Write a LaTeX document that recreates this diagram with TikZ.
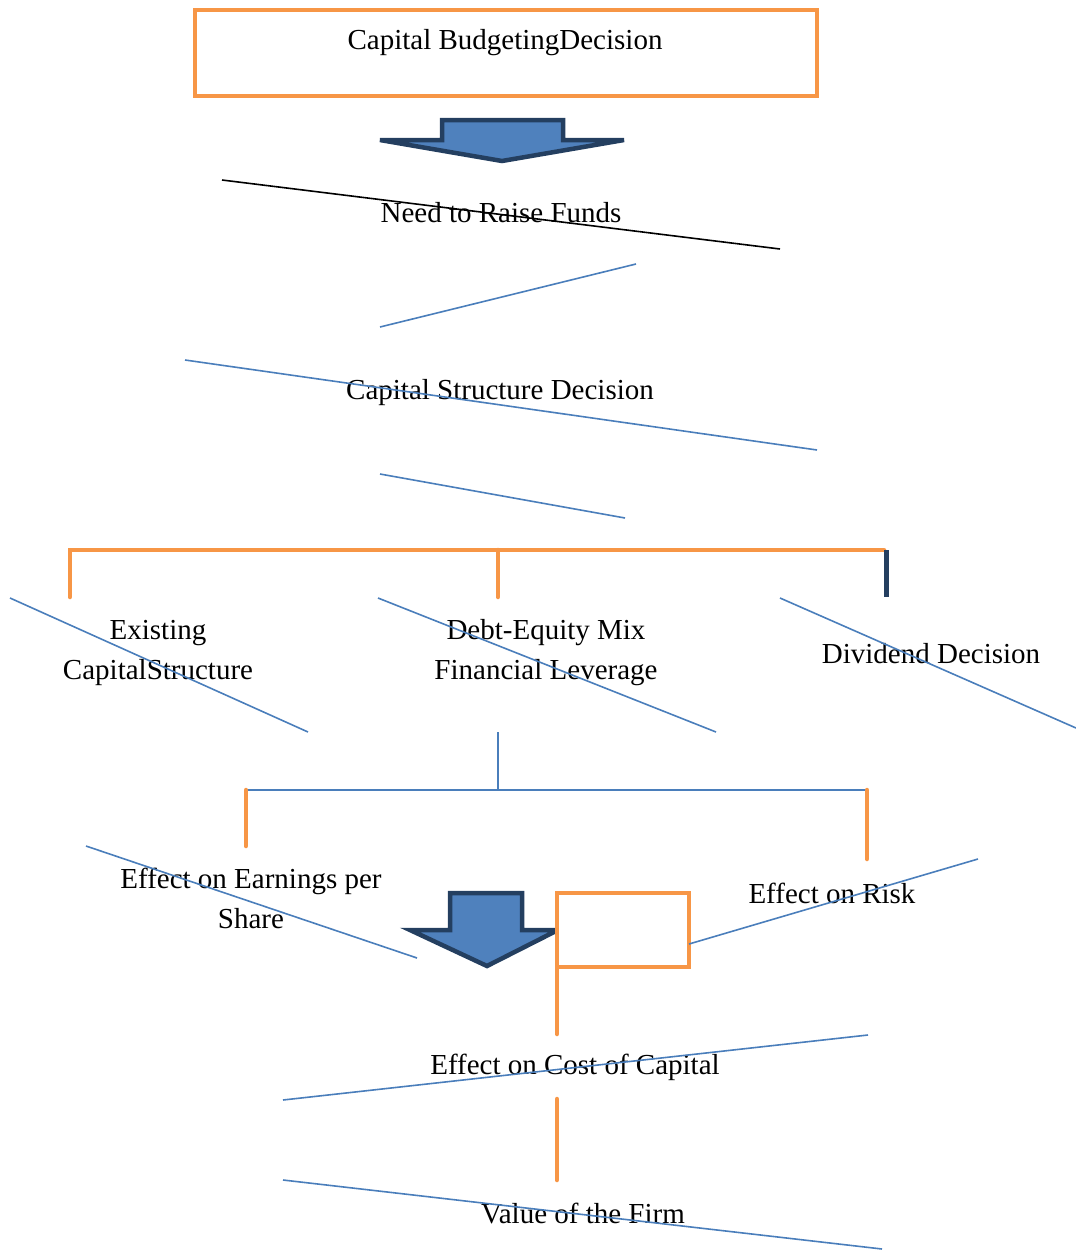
\documentclass[tikz,border=0pt]{standalone}
\usepackage{fontspec}
\setmainfont{Liberation Serif}
\usepackage{xcolor}
\definecolor{wordorange}{HTML}{F79646}
\definecolor{wordblue}{HTML}{4A7EBB}
\definecolor{arrownavy}{HTML}{243F60}
\definecolor{arrowfill}{HTML}{4F81BD}
\tikzset{
  lbl/.style={font=\fontsize{29}{40}\selectfont, align=center, inner sep=0pt, yshift=-3pt},
  wline/.style={color=wordblue, line width=1.6pt},
  obar/.style={color=wordorange, line width=4.5pt, line cap=round},
  obox/.style={draw=wordorange, line width=4pt, fill=white},
  blockarrow/.style={draw=arrownavy, fill=arrowfill, line width=4.5pt, line join=miter},
}

\begin{document}
\begin{tikzpicture}[x=1pt, y=-1pt]
  \useasboundingbox (0,0) rectangle (1076,1251);

  % top box and arrow
  \draw[obox] (195,10) rectangle (817,96);
  \node[lbl] (budget) at (505,40) {Capital BudgetingDecision};
  \draw[blockarrow] (442,140) -- (442,120) -- (563,120) -- (563,140) -- (624,140)
    -- (502,161) -- (380,140) -- cycle;

  \node[lbl] (funds) at (501,210) {Need to Raise Funds};
  \draw[line width=1.6pt] (222,180) -- (780,249);
  \draw[wline] (380,327) -- (636,264);

  \node[lbl] (csd) at (500,390) {Capital Structure Decision};
  \draw[wline] (185,360) -- (817,450);
  \draw[wline] (380,474) -- (625,518);

  % first bracket
  \draw[obar] (70,597) -- (70,550) -- (884,550);
  \draw[obar] (498,550) -- (498,597);
  \draw[color=arrownavy, line width=5pt] (886,550) -- (886,597);

  \node[lbl] (existing) at (158,650) {Existing\\CapitalStructure};
  \node[lbl] (debteq) at (546,650) {Debt-Equity Mix\\Financial Leverage};
  \node[lbl] (dividend) at (931,651) {Dividend Decision};
  \draw[wline] (10,598) -- (308,732);
  \draw[wline] (378,598) -- (716,732);
  \draw[wline] (780,598) -- (1076,728);

  % second bracket
  \draw[wline] (498,732) -- (498,790);
  \draw[wline] (246,790) -- (867,790);
  \draw[obar] (246,790) -- (246,846);
  \draw[obar] (867,790) -- (867,859);

  \node[lbl] (eps) at (251,895) {Effect on Earnings per\\Share};
  \draw[wline] (86,846) -- (417,958);
  \draw[blockarrow] (450,930) -- (450,893) -- (522,893) -- (522,930) -- (558,930)
    -- (487,966) -- (410,930) -- cycle;
  \draw[obox] (557,893) rectangle (689,967);
  \node[lbl] (risk) at (832,890) {Effect on Risk};
  \draw[wline] (689,944) -- (978,859);
  \draw[obar] (557,967) -- (557,1034);

  \node[lbl] (coc) at (575,1064) {Effect on Cost of Capital};
  \draw[wline] (283,1100) -- (868,1035);
  \draw[obar] (557,1099) -- (557,1180);

  \node[lbl] (firm) at (583,1210) {Value of the Firm};
  \draw[wline] (283,1180) -- (882,1249);
\end{tikzpicture}
\end{document}
